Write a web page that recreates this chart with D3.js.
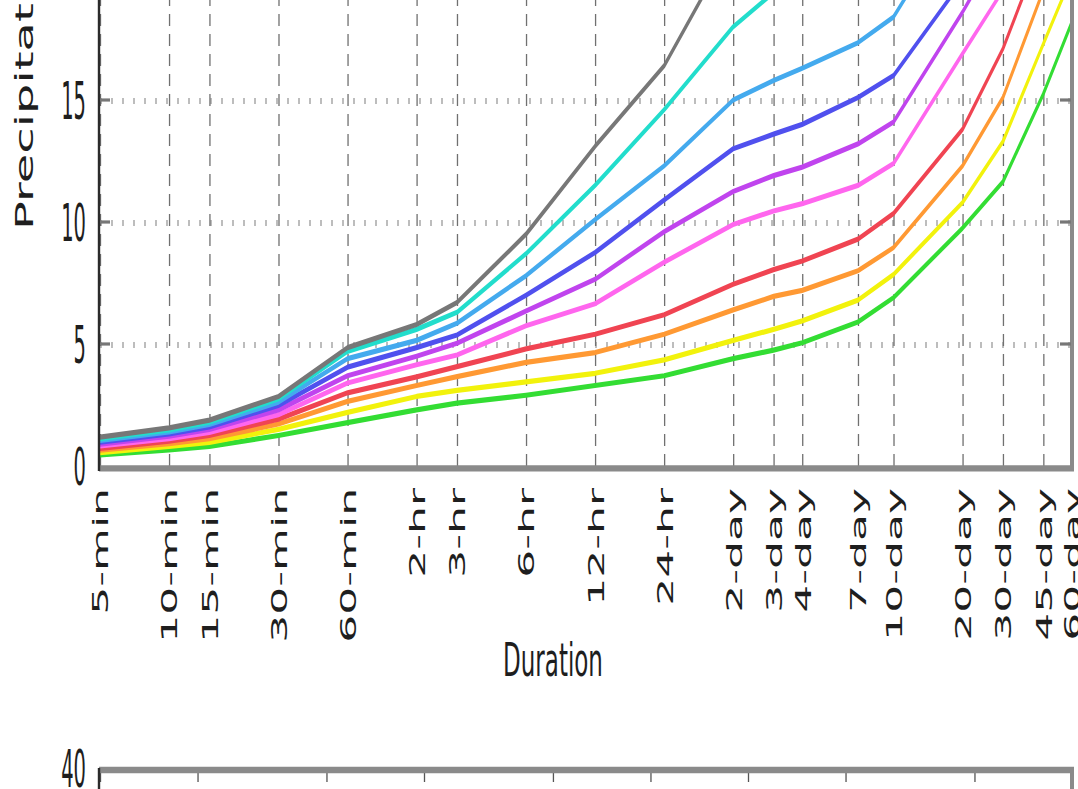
<!DOCTYPE html>
<html>
<head>
<meta charset="utf-8">
<script src="https://cdn.jsdelivr.net/npm/d3@7"></script>
<style>
  html, body { margin: 0; padding: 0; background: #fff; overflow: hidden; }
  text { font-family: "DejaVu Sans", sans-serif; fill: #1e1e1e; }
</style>
</head>
<body>
<div id="chart"></div>
<script>
// Durations on the x axis (tick labels and their length in minutes)
const durationLabels = ["5-min", "10-min", "15-min", "30-min", "60-min", "2-hr", "3-hr", "6-hr", "12-hr", "24-hr",
    "2-day", "3-day", "4-day", "7-day", "10-day", "20-day", "30-day", "45-day", "60-day"];
const durationMinutes = [5, 10, 15, 30, 60, 120, 180, 360, 720, 1440,
    2880, 4320, 5760, 10080, 14400, 28800, 43200, 64800, 86400];

// Average recurrence intervals (one curve each) and their colours
const ariYears = [1, 2, 5, 10, 25, 50, 100, 200, 500, 1000];
const ariColors = ["#33dd33", "#f2f20c", "#ff9933", "#f04452", "#ff66ee",
    "#c044ee", "#5050ee", "#44aaee", "#22ddcc", "#777777"];

// Precipitation depth (in) per duration, one list per recurrence interval
const depth1yr = [0.45, 0.66, 0.80, 1.25, 1.78, 2.30, 2.58, 2.90, 3.30, 3.70, 4.40, 4.75, 5.05, 5.90, 6.90, 9.75, 11.65, 15.25, 18.2];
const depth2yr = [0.55, 0.80, 0.97, 1.50, 2.20, 2.85, 3.10, 3.45, 3.80, 4.35, 5.15, 5.60, 5.95, 6.80, 7.85, 10.8, 13.3, 17.3, 20.1];
const depth5yr = [0.65, 0.92, 1.12, 1.72, 2.65, 3.30, 3.66, 4.25, 4.65, 5.40, 6.40, 6.95, 7.20, 8.00, 8.95, 12.3, 15.1, 19.5, 22.5];
const depth10yr = [0.72, 1.02, 1.25, 1.92, 3.00, 3.65, 4.07, 4.80, 5.40, 6.20, 7.45, 8.05, 8.40, 9.30, 10.35, 13.8, 17.1, 21.4, 24.5];
const depth25yr = [0.82, 1.12, 1.38, 2.10, 3.40, 4.15, 4.55, 5.75, 6.65, 8.35, 9.90, 10.45, 10.75, 11.5, 12.4, 16.9, 19.5, 23.0, 26.0];
const depth50yr = [0.90, 1.22, 1.50, 2.30, 3.70, 4.50, 5.03, 6.35, 7.65, 9.60, 11.25, 11.9, 12.25, 13.2, 14.1, 18.6, 21.5, 25.0, 28.0];
const depth100yr = [0.98, 1.32, 1.60, 2.48, 4.05, 4.85, 5.37, 7.00, 8.75, 10.9, 13.0, 13.6, 14.0, 15.1, 16.0, 19.9, 22.5, 26.0, 29.0];
const depth200yr = [1.05, 1.40, 1.70, 2.62, 4.40, 5.15, 5.85, 7.80, 10.1, 12.3, 15.0, 15.8, 16.3, 17.35, 18.4, 23.0, 26.0, 30.0, 33.0];
const depth500yr = [1.12, 1.48, 1.80, 2.75, 4.70, 5.60, 6.30, 8.70, 11.5, 14.6, 18.0, 19.4, 20.5, 22.5, 24.5, 30.0, 34.0, 38.0, 41.0];
const depth1000yr = [1.18, 1.56, 1.88, 2.85, 4.85, 5.80, 6.70, 9.50, 13.1, 16.4, 21.5, 23.5, 25.0, 28.0, 30.0, 36.0, 40.0, 44.0, 47.0];
const depthSeries = [depth1yr, depth2yr, depth5yr, depth10yr, depth25yr, depth50yr, depth100yr, depth200yr, depth500yr, depth1000yr];

const yTicks = [0, 5, 10, 15, 20, 25, 30, 35, 40];
const yTickLabels = [0, 5, 10, 15];

// The picture is stretched vertically, so everything is drawn in a group scaled by 2 in y
const width = 1078, height = 789, stretch = 2;

const svg = d3.select("#chart").append("svg")
    .attr("width", width)
    .attr("height", height);
svg.append("rect").attr("width", width).attr("height", height).attr("fill", "#fff");

const g = svg.append("g").attr("transform", `scale(1,${stretch})`);

// Scales for the depth-duration chart
const x = d3.scaleLog().domain([5, 86400]).range([100, 1072]);
const y = d3.scaleLinear().domain([0, 40]).range([233, -255]);

// Horizontal dotted grid
g.append("g")
    .attr("class", "y-grid")
    .attr("transform", "translate(100,0)")
    .call(d3.axisRight(y).tickValues(yTicks.slice(1)).tickSize(972).tickFormat(""))
    .call(s => s.select(".domain").remove())
    .selectAll("line")
    .attr("stroke", "#bdbdbd")
    .attr("stroke-width", 3)
    .attr("stroke-dasharray", "2,9");

// Vertical dashed grid
g.append("g")
    .attr("class", "x-grid")
    .attr("transform", `translate(0,${y(0)})`)
    .call(d3.axisTop(x).tickValues(durationMinutes).tickSize(y(0) - y(40)).tickFormat(""))
    .call(s => s.select(".domain").remove())
    .selectAll("line")
    .attr("stroke", "#707070")
    .attr("stroke-width", 1.3)
    .attr("stroke-dasharray", "6,4");

// Clip the curves to the plot area
g.append("defs").append("clipPath")
    .attr("id", "clip")
    .append("rect")
    .attr("x", 100)
    .attr("y", y(40))
    .attr("width", 972)
    .attr("height", y(0) - y(40));

const line = d3.line()
    .x((d, i) => x(durationMinutes[i]))
    .y(d => y(d));

g.append("g")
    .attr("clip-path", "url(#clip)")
    .selectAll("path")
    .data(depthSeries)
    .enter()
    .append("path")
    .attr("d", line)
    .attr("fill", "none")
    .attr("stroke", (d, i) => ariColors[i])
    .attr("stroke-width", 2.6)
    .attr("stroke-linejoin", "round");

// Plot frame: dark left axis, grey bottom and right borders
g.append("line").attr("x1", 1072).attr("x2", 1072).attr("y1", y(40)).attr("y2", y(0))
    .attr("stroke", "#8a8a8a").attr("stroke-width", 4);
g.append("line").attr("x1", 99).attr("x2", 1074).attr("y1", y(0) + 1.2).attr("y2", y(0) + 1.2)
    .attr("stroke", "#8a8a8a").attr("stroke-width", 3.2);
g.append("line").attr("x1", 99).attr("x2", 99).attr("y1", y(40)).attr("y2", y(0) + 2.5)
    .attr("stroke", "#2b2b2b").attr("stroke-width", 2.4);

// Small inner ticks on left and right borders
g.selectAll(".ytick-l")
    .data(yTicks.slice(1))
    .enter()
    .append("line")
    .attr("x1", 100).attr("x2", 110)
    .attr("y1", d => y(d)).attr("y2", d => y(d))
    .attr("stroke", "#777").attr("stroke-width", 1.6);
g.selectAll(".ytick-r")
    .data(yTicks.slice(1))
    .enter()
    .append("line")
    .attr("x1", 1060).attr("x2", 1071)
    .attr("y1", d => y(d)).attr("y2", d => y(d))
    .attr("stroke", "#777").attr("stroke-width", 1.6);

// Y tick labels (narrow, tall glyphs); the higher ones sit above the picture
g.selectAll(".ylab")
    .data(yTickLabels)
    .enter()
    .append("text")
    .attr("transform", d => `translate(86,${y(d)}) scale(0.75,1)`)
    .attr("text-anchor", "end")
    .attr("dy", "0.36em")
    .style("font-size", "26px")
    .text(d => d);

// X axis tick labels, rotated
g.append("g")
    .attr("class", "x-axis")
    .attr("transform", `translate(0,${y(0)})`)
    .call(d3.axisBottom(x).tickValues(durationMinutes).tickSize(0)
        .tickFormat((d, i) => durationLabels[i]))
    .call(s => s.select(".domain").remove())
    .selectAll("text")
    .attr("transform", "rotate(-90)")
    .attr("text-anchor", "end")
    .attr("x", -11)
    .attr("y", 0)
    .attr("dy", "0.36em")
    .style("font-size", "22px")
    .attr("fill", "#1e1e1e");

g.append("text")
    .attr("x", 553)
    .attr("y", 338)
    .attr("text-anchor", "middle")
    .style("font-size", "23px")
    .text("Duration");

// Y axis title, its lower end sits at page y ~230
g.append("text")
    .attr("transform", "translate(33,115) rotate(-90)")
    .attr("text-anchor", "start")
    .style("font-size", "24px")
    .text("Precipitation depth (in)");

// Second chart (depth vs. recurrence interval), only its top edge is in view
const x2 = d3.scaleLog().domain([1, 1000]).range([100, 1072]);
const y2 = d3.scaleLinear().domain([0, 40]).range([629, 385]);

g.append("g")
    .attr("transform", `translate(0,${y2(40)})`)
    .call(d3.axisBottom(x2).tickValues(ariYears).tickSize(y2(0) - y2(40)).tickFormat(""))
    .call(s => s.select(".domain").remove())
    .selectAll("line")
    .attr("stroke", "#555")
    .attr("stroke-width", 1.3)
    .attr("stroke-dasharray", "6,4");

g.append("line").attr("x1", 99).attr("x2", 1074).attr("y1", y2(40)).attr("y2", y2(40))
    .attr("stroke", "#8a8a8a").attr("stroke-width", 3.2);
g.append("line").attr("x1", 99).attr("x2", 99).attr("y1", y2(40) - 1).attr("y2", y2(0))
    .attr("stroke", "#2b2b2b").attr("stroke-width", 2.4);
g.append("line").attr("x1", 1072).attr("x2", 1072).attr("y1", y2(40)).attr("y2", y2(0))
    .attr("stroke", "#8a8a8a").attr("stroke-width", 4);

g.append("text")
    .attr("transform", `translate(86,${y2(40) - 1}) scale(0.75,1)`)
    .attr("text-anchor", "end")
    .attr("dy", "0.36em")
    .style("font-size", "26px")
    .text("40");
</script>
</body>
</html>
